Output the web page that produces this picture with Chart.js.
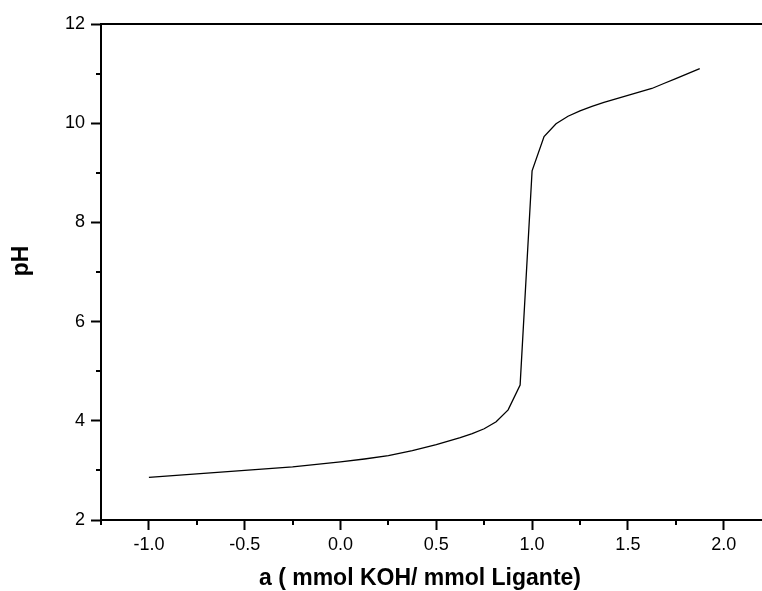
<!DOCTYPE html>
<html>
<head>
<meta charset="utf-8">
<script src="https://cdn.jsdelivr.net/npm/chart.js@4/dist/chart.umd.min.js"></script>
<style>
  html, body { margin: 0; padding: 0; background: #fff; overflow: hidden; }
  canvas { display: block; }
</style>
</head>
<body>
<canvas id="titration" width="762" height="591"></canvas>
<script>
// titration curve: a (mmol KOH / mmol ligand) vs pH
const aValues = [-1.0, -0.75, -0.5, -0.25, 0.0, 0.125, 0.25, 0.375, 0.5, 0.625, 0.6875, 0.75, 0.8125,
                 0.875, 0.9375, 1.0, 1.0625, 1.125, 1.1875, 1.25, 1.3125, 1.375, 1.4375, 1.5,
                 1.5625, 1.625, 1.6875, 1.75, 1.8125, 1.875];
const phValues = [2.86, 2.93, 3.00, 3.07, 3.17, 3.23, 3.30, 3.40, 3.52, 3.66, 3.74, 3.84, 3.98,
                  4.22, 4.72, 9.04, 9.73, 9.99, 10.14, 10.25, 10.34, 10.42, 10.49, 10.56,
                  10.63, 10.70, 10.80, 10.90, 11.00, 11.10];

const xLabelTicks = [-1.0, -0.5, 0.0, 0.5, 1.0, 1.5, 2.0];
const yLabelTicks = [2, 4, 6, 8, 10, 12];

const xTitle = 'a ( mmol KOH/ mmol Ligante)';
const yTitle = 'pH';

const FONT = '"Liberation Sans", Arial, Helvetica, sans-serif';

function isLabelled(list, v) {
    return list.some(t => Math.abs(t - v) < 1e-9);
}

// top frame line, short minor ticks and the axis titles
const framePlugin = {
    id: 'frame',
    afterDraw(chart) {
        const { ctx, chartArea: area, scales: { x, y } } = chart;
        ctx.save();
        ctx.strokeStyle = '#000';
        ctx.lineWidth = 2;

        ctx.beginPath();
        ctx.moveTo(area.left - 1, area.top);
        ctx.lineTo(area.right, area.top);
        ctx.stroke();

        ctx.beginPath();
        x.ticks.forEach(t => {
            if (isLabelled(xLabelTicks, t.value)) return;
            const px = Math.round(x.getPixelForValue(t.value));
            ctx.moveTo(px, area.bottom);
            ctx.lineTo(px, area.bottom + 5);
        });
        y.ticks.forEach(t => {
            if (isLabelled(yLabelTicks, t.value)) return;
            const py = Math.round(y.getPixelForValue(t.value));
            ctx.moveTo(area.left, py);
            ctx.lineTo(area.left - 5, py);
        });
        ctx.stroke();

        ctx.fillStyle = '#000';
        ctx.font = 'bold 23px ' + FONT;
        ctx.textAlign = 'center';
        ctx.textBaseline = 'alphabetic';
        ctx.fillText(xTitle, 420, 585);

        ctx.translate(28, 261);
        ctx.rotate(-Math.PI / 2);
        ctx.fillText(yTitle, 0, 0);
        ctx.restore();
    }
};

const ctx = document.getElementById('titration').getContext('2d');

new Chart(ctx, {
    type: 'line',
    data: {
        datasets: [{
            data: aValues.map((a, i) => ({ x: a, y: phValues[i] })),
            borderColor: '#000',
            borderWidth: 1.3,
            pointRadius: 0,
            tension: 0,
            fill: false
        }]
    },
    options: {
        responsive: false,
        animation: false,
        layout: { padding: { top: 24, right: 0, left: 0, bottom: 0 } },
        plugins: {
            legend: { display: false },
            tooltip: { enabled: false }
        },
        scales: {
            x: {
                type: 'linear',
                min: -1.25,
                max: 2.2,
                afterBuildTicks(scale) {
                    // every quarter unit inside the range
                    const ticks = [];
                    for (let i = Math.ceil(scale.min * 4); i <= Math.floor(scale.max * 4); i++) {
                        ticks.push({ value: i / 4 });
                    }
                    scale.ticks = ticks;
                },
                afterFit(scale) { scale.height = 71; },
                ticks: {
                    stepSize: 0.25,
                    color: '#000',
                    padding: 4,
                    maxRotation: 0,
                    autoSkip: false,
                    font: { family: FONT, size: 18 },
                    callback: v => isLabelled(xLabelTicks, v) ? v.toFixed(1) : ''
                },
                grid: {
                    drawOnChartArea: false,
                    tickLength: 10,
                    tickWidth: 2,
                    tickColor: c => isLabelled(xLabelTicks, c.tick.value) ? '#000' : 'rgba(0,0,0,0)'
                },
                border: { display: true, color: '#000', width: 2 }
            },
            y: {
                min: 2,
                max: 12,
                afterFit(scale) { scale.width = 101; },
                ticks: {
                    stepSize: 1,
                    color: '#000',
                    padding: 6,
                    autoSkip: false,
                    font: { family: FONT, size: 18 },
                    callback: v => isLabelled(yLabelTicks, v) ? String(v) : ''
                },
                grid: {
                    drawOnChartArea: false,
                    tickLength: 10,
                    tickWidth: 2,
                    tickColor: c => isLabelled(yLabelTicks, c.tick.value) ? '#000' : 'rgba(0,0,0,0)'
                },
                border: { display: true, color: '#000', width: 2 }
            }
        }
    },
    plugins: [framePlugin]
});
</script>
</body>
</html>
